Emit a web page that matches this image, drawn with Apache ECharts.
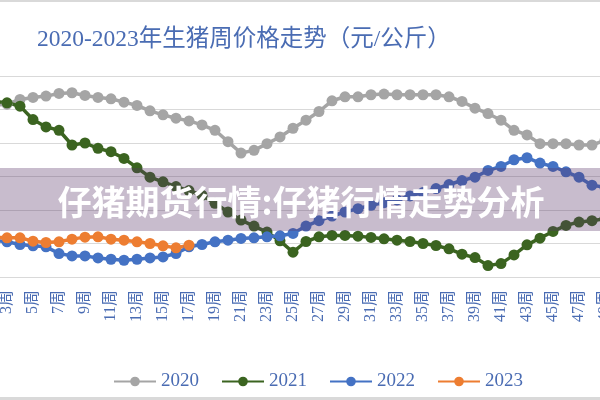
<!DOCTYPE html>
<html>
<head>
<meta charset="utf-8">
<script src="https://cdn.jsdelivr.net/npm/echarts@6/dist/echarts.min.js"></script>
<style>
  html, body { margin: 0; padding: 0; background: #fff; }
  #chart { width: 600px; height: 400px; }
</style>
</head>
<body>
<div id="chart"></div>
<script>
// 周次 1..50（左右两端被裁切）
const weeks = [];
for (let i = 1; i <= 50; i++) weeks.push(i + "周");

const seriesNames = ["2020", "2021", "2022", "2023"];
const colors = ["#a5a5a5", "#3b6420", "#4472c4", "#ed7d31"];

const price2020 = [35.3, 35.6, 35.8, 36.5, 36.8, 37.0, 37.4, 37.5, 37.1, 36.8,
  36.6, 36.1, 35.6, 34.8, 34.2, 33.7, 33.3, 32.7, 31.9, 30.2,
  28.5, 28.9, 29.9, 30.9, 32.2, 33.4, 34.7, 36.3, 36.9, 36.9,
  37.2, 37.3, 37.2, 37.2, 37.2, 37.2, 36.9, 36.2, 35.2, 34.4,
  33.4, 31.9, 31.2, 29.9, 29.9, 29.9, 29.7, 29.7, 30.4, 31.0];
const price2021 = [36.0, 36.2, 36.0, 35.5, 33.5, 32.4, 31.9, 29.7, 30.0, 29.2,
  28.7, 27.7, 26.3, 24.9, 24.2, 23.5, 22.9, 22.2, 21.0, 19.7,
  18.5, 17.6, 16.7, 15.4, 13.7, 15.3, 16.0, 16.2, 16.2, 16.1,
  15.9, 15.7, 15.5, 15.3, 15.0, 14.7, 14.2, 13.4, 12.9, 11.7,
  12.0, 13.3, 14.8, 15.8, 16.8, 17.7, 18.2, 18.4, 18.7, 19.0];
const price2022 = [15.6, 15.5, 15.25, 14.85, 14.65, 14.5, 13.5, 13.15, 13.15, 12.85,
  12.65, 12.5, 12.65, 12.85, 13.0, 13.5, 14.5, 14.85, 15.25, 15.5,
  15.75, 15.85, 16.0, 16.15, 16.5, 17.6, 18.4, 19.1, 19.7, 20.2,
  20.7, 21.1, 21.5, 22.1, 22.6, 23.2, 23.8, 24.4, 24.9, 25.9,
  26.5, 27.5, 27.8, 27.0, 26.5, 25.7, 24.9, 23.7, 23.4, 23.0];
const price2023 = [16.0, 15.9, 15.85, 15.85, 15.35, 15.15, 15.25, 15.65, 15.95, 16.0,
  15.65, 15.5, 15.25, 15.0, 14.65, 14.35, 14.75];

const allData = [price2020, price2021, price2022, price2023];

const blueText = "#4a6cb3";
const serifCjk = "'Liberation Serif', 'Noto Sans CJK SC', serif";

let myChart = echarts.init(document.getElementById("chart"));
myChart.setOption({
  animation: false,
  backgroundColor: "#fff",
  title: {
    text: "2020-2023年生猪周价格走势（元/公斤）",
    left: 32,
    top: 23,
    textStyle: {
      color: blueText,
      fontSize: 23.5,
      fontWeight: "normal",
      fontFamily: serifCjk,
    },
  },
  legend: {
    data: seriesNames,
    left: 108,
    top: 367,
    itemWidth: 42,
    itemHeight: 12,
    itemGap: 22,
    textStyle: {
      color: blueText,
      fontSize: 19,
      fontFamily: "'Liberation Serif', serif",
    },
  },
  grid: {
    left: -19,
    right: -18,
    top: 76,
    bottom: 123,
    containLabel: false,
    outerBoundsMode: "none",
  },
  xAxis: {
    type: "category",
    data: weeks,
    boundaryGap: false,
    axisLine: { lineStyle: { color: "#d9d9d9", width: 1 } },
    axisTick: { show: false },
    axisLabel: {
      interval: 1,
      rotate: 90,
      margin: 13,
      color: blueText,
      fontSize: 16,
      fontFamily: serifCjk,
    },
  },
  yAxis: {
    type: "value",
    min: 10,
    max: 40,
    interval: 5,
    axisLabel: { show: false },
    axisLine: { show: false },
    axisTick: { show: false },
    splitLine: { lineStyle: { color: "#d9d9d9", width: 1 } },
  },
  series: allData.map((item, i) => {
    return {
      type: "line",
      name: seriesNames[i],
      data: item,
      symbol: "circle",
      symbolSize: 11,
      showAllSymbol: true,
      lineStyle: { width: 3.5, color: colors[i] },
      itemStyle: { color: colors[i] },
    };
  }),
  graphic: [
    { type: "rect", left: 0, top: 0, shape: { width: 600, height: 2 }, style: { fill: "#d9d9d9" }, z: 100 },
    { type: "rect", left: 0, top: 397, shape: { width: 600, height: 3 }, style: { fill: "#d9d9d9" }, z: 100 },
    { type: "rect", left: 0, top: 168, shape: { width: 600, height: 63 }, style: { fill: "rgba(88,52,103,0.33)" }, z: 100 },
    {
      type: "text",
      x: 301,
      y: 202,
      z: 101,
      style: {
        text: "仔猪期货行情:仔猪行情走势分析",
        fill: "#fff",
        font: "bold 34px 'Noto Sans CJK SC'",
        align: "center",
        verticalAlign: "middle",
      },
    },
  ],
});
</script>
</body>
</html>
